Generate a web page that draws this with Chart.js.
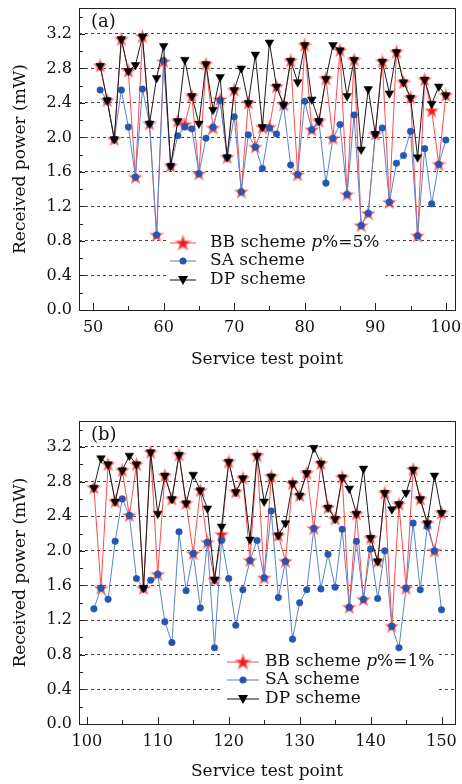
<!DOCTYPE html>
<html>
<head>
<meta charset="utf-8">
<script src="https://cdn.jsdelivr.net/npm/chart.js@4.4.1/dist/chart.umd.min.js"></script>
<style>
  html, body { margin: 0; padding: 0; background: #fff; }
  #wrapA { position: absolute; left: 0; top: 0; }
  #wrapB { position: absolute; left: 0; top: 372px; }
</style>
</head>
<body>
<div id="wrapA"><canvas id="chartA" width="462" height="372"></canvas></div>
<div id="wrapB"><canvas id="chartB" width="462" height="412"></canvas></div>
<script>
// service test points
const pointsA = [51,52,53,54,55,56,57,58,59,60,61,62,63,64,65,66,67,68,69,70,
  71,72,73,74,75,76,77,78,79,80,81,82,83,84,85,86,87,88,89,90,
  91,92,93,94,95,96,97,98,99,100];
const pointsB = [101,102,103,104,105,106,107,108,109,110,111,112,113,114,115,116,117,118,119,120,
  121,122,123,124,125,126,127,128,129,130,131,132,133,134,135,136,137,138,139,140,
  141,142,143,144,145,146,147,148,149,150];

// panel (a), p% = 5%
const bbA = [2.83,2.43,1.98,3.14,2.77,1.54,3.17,2.16,0.87,2.88, 1.67,2.19,2.15,2.48,1.58,2.85,2.11,2.44,1.77,2.55,
  1.37,2.40,1.89,2.12,2.12,2.59,2.38,2.89,1.57,3.07, 2.09,2.19,2.68,1.99,3.01,1.34,2.90,0.98,1.12,2.04,
  2.88,1.25,2.99,2.64,2.46,0.86,2.67,2.31,1.69,2.49];
const saA = [2.55,2.43,1.98,2.55,2.12,1.54,2.56,2.16,0.87,2.89, 1.67,2.02,2.12,2.10,1.58,1.99,2.12,2.43,1.77,2.24,
  1.37,2.03,1.89,1.64,2.11,2.04,2.38,1.68,1.57,2.42, 2.09,2.19,1.47,1.99,2.15,1.34,2.26,0.98,1.12,2.04,
  2.11,1.25,1.70,1.79,2.07,0.86,1.87,1.23,1.69,1.97];
const dpA = [2.83,2.43,1.98,3.14,2.77,2.84,3.17,2.16,2.69,3.06, 1.67,2.19,2.90,2.48,2.16,2.85,2.32,2.70,1.77,2.55,
  2.80,2.40,2.96,2.12,3.10,2.59,2.38,2.89,2.64,3.07, 2.44,2.19,2.68,3.07,3.01,2.48,2.90,1.86,2.56,2.04,
  2.88,2.51,2.99,2.64,2.46,1.77,2.67,2.39,2.59,2.49];

// panel (b), p% = 1%
const bbB = [2.73,1.57,3.00,2.57,2.93,2.41,3.00,1.57,3.14,1.73, 2.87,2.60,3.11,2.55,1.97,2.70,2.10,1.67,2.19,3.03,
  2.68,2.84,1.89,3.10,1.69,2.86,2.18,1.88,2.78,2.64, 2.90,2.26,3.01,2.50,2.37,2.85,1.35,2.43,1.44,2.15,
  1.88,2.67,1.13,2.54,1.57,2.94,2.60,2.32,2.00,2.44];
const saB = [1.33,1.57,1.44,2.11,2.60,2.41,1.68,1.57,1.66,1.73, 1.18,0.94,2.22,1.54,1.97,1.34,2.10,0.88,2.12,1.68,
  1.14,1.55,1.89,2.12,1.69,2.46,1.46,1.88,0.98,1.40, 1.55,2.26,1.56,1.96,1.58,2.25,1.35,2.11,1.44,2.02,
  1.45,2.00,1.13,0.88,1.57,2.32,1.55,2.28,2.00,1.32];
const dpB = [2.73,3.07,3.00,2.57,2.93,3.10,3.00,1.57,3.14,2.43, 2.87,2.60,3.11,2.55,2.88,2.70,2.49,1.67,2.28,3.03,
  2.68,2.84,2.13,3.10,2.57,2.86,2.18,2.32,2.78,2.64, 2.90,3.19,3.01,2.50,2.37,2.85,2.72,2.43,2.95,2.15,
  1.88,2.67,2.48,2.54,2.67,2.94,2.60,2.32,2.87,2.44];

// ticks
const yTicks = [0, 0.4, 0.8, 1.2, 1.6, 2.0, 2.4, 2.8, 3.2];
const yMinor = [0.2, 0.6, 1.0, 1.4, 1.8, 2.2, 2.6, 3.0, 3.4];
const xTicksA = [50, 60, 70, 80, 90, 100];
const xMinorA = [55, 65, 75, 85, 95];
const xTicksB = [100, 110, 120, 130, 140, 150];
const xMinorB = [105, 115, 125, 135, 145];

const FONT = 'DejaVu Serif';
const RED = '#f01a1a';
const BLUE = '#2656b0';

function makeStar(R, r) {
  const c = document.createElement('canvas');
  const s = Math.ceil(2 * R + 4);
  c.width = c.height = s;
  const g = c.getContext('2d');
  g.translate(s / 2, s / 2 + 0.5);
  g.beginPath();
  for (let k = 0; k < 10; k++) {
    const a = -Math.PI / 2 + k * Math.PI / 5;
    const rad = k % 2 ? r : R;
    g.lineTo(rad * Math.cos(a), rad * Math.sin(a));
  }
  g.closePath();
  g.fillStyle = RED;
  g.fill();
  g.strokeStyle = 'rgba(255,120,120,0.85)';
  g.lineWidth = 1.2;
  g.stroke();
  return c;
}
const starPt = makeStar(6.5, 2.8);
const starLeg = makeStar(7.5, 3.2);

// frame, inward ticks, legend
const decorPlugin = {
  id: 'decor',
  beforeDatasetsDraw(chart, args, opts) {
    const ctx = chart.ctx;
    const b = opts.box;
    ctx.save();
    ctx.fillStyle = '#fff';
    ctx.fillRect(b[0], b[1], b[2], b[3]);
    ctx.restore();
  },
  afterDraw(chart, args, opts) {
    const ctx = chart.ctx;
    const a = chart.chartArea;
    const xs = chart.scales.x, ys = chart.scales.y;
    ctx.save();
    ctx.strokeStyle = '#222';
    ctx.lineWidth = 1;
    ctx.strokeRect(Math.round(a.left) + 0.5, Math.round(a.top) + 0.5,
      Math.round(a.right - a.left), Math.round(a.bottom - a.top));
    ctx.beginPath();
    yTicks.forEach(v => {
      const y = Math.round(ys.getPixelForValue(v)) + 0.5;
      ctx.moveTo(a.left, y); ctx.lineTo(a.left + 6, y);
    });
    yMinor.forEach(v => {
      const y = Math.round(ys.getPixelForValue(v)) + 0.5;
      ctx.moveTo(a.left, y); ctx.lineTo(a.left + 4, y);
    });
    opts.xMajor.forEach(v => {
      const x = Math.round(xs.getPixelForValue(v)) + 0.5;
      ctx.moveTo(x, a.bottom); ctx.lineTo(x, a.bottom - 7);
    });
    opts.xMinor.forEach(v => {
      const x = Math.round(xs.getPixelForValue(v)) + 0.5;
      ctx.moveTo(x, a.bottom); ctx.lineTo(x, a.bottom - 4);
    });
    ctx.stroke();

    // panel tag
    ctx.fillStyle = '#111';
    ctx.font = '18px "' + FONT + '"';
    ctx.textBaseline = 'middle';
    ctx.fillText(opts.tag, a.left + 12, a.top + 14);

    // legend
    const L = opts.legend;
    const rows = L.rows;
    const [x1, x2] = L.line;
    const xm = (x1 + x2) / 2;
    ctx.lineWidth = 1;
    ctx.strokeStyle = '#ff4a4a';
    ctx.beginPath(); ctx.moveTo(x1, rows[0]); ctx.lineTo(x2, rows[0]); ctx.stroke();
    ctx.drawImage(starLeg, xm - starLeg.width / 2, rows[0] - starLeg.height / 2);
    ctx.strokeStyle = '#4f7bc6';
    ctx.beginPath(); ctx.moveTo(x1, rows[1]); ctx.lineTo(x2, rows[1]); ctx.stroke();
    ctx.fillStyle = BLUE;
    ctx.beginPath(); ctx.arc(xm, rows[1], 3.5, 0, Math.PI * 2); ctx.fill();
    ctx.strokeStyle = '#111';
    ctx.beginPath(); ctx.moveTo(x1, rows[2]); ctx.lineTo(x2, rows[2]); ctx.stroke();
    ctx.fillStyle = '#000';
    ctx.beginPath();
    ctx.moveTo(xm - 5, rows[2] - 4); ctx.lineTo(xm + 5, rows[2] - 4); ctx.lineTo(xm, rows[2] + 5);
    ctx.closePath(); ctx.fill();

    ctx.fillStyle = '#111';
    const f = '17px "' + FONT + '"';
    const fi = 'italic 17px "' + FONT + '"';
    ctx.font = f;
    let tx = L.textX;
    ctx.fillText('BB scheme ', tx, rows[0]);
    tx += ctx.measureText('BB scheme ').width;
    ctx.font = fi;
    ctx.fillText('p', tx, rows[0]);
    tx += ctx.measureText('p').width;
    ctx.font = f;
    ctx.fillText(L.pText, tx, rows[0]);
    ctx.fillText('SA scheme', L.textX, rows[1]);
    ctx.fillText('DP scheme', L.textX, rows[2]);
    ctx.restore();
  }
};

function buildChart(id, pts, bb, sa, dp, xr, xMajor, xMinor, padTop, xH, tag, legend, box) {
  const tickFont = { family: FONT, size: 16, weight: 'normal' };
  const titleFont = { family: FONT, size: 17, weight: 'normal' };
  return new Chart(document.getElementById(id), {
    type: 'line',
    data: {
      datasets: [
        {
          label: 'DP scheme',
          data: pts.map((x, i) => ({ x, y: dp[i] })),
          borderColor: '#1a1a1a', borderWidth: 1,
          pointStyle: 'triangle', rotation: 180, pointRadius: 5,
          pointBackgroundColor: '#000', pointBorderColor: '#000', pointBorderWidth: 0.5,
          order: 1
        },
        {
          label: 'SA scheme',
          data: pts.map((x, i) => ({ x, y: sa[i] })),
          borderColor: '#5a84cc', borderWidth: 1,
          pointStyle: 'circle', pointRadius: 3.3,
          pointBackgroundColor: BLUE, pointBorderColor: BLUE, pointBorderWidth: 0.5,
          order: 2
        },
        {
          label: 'BB scheme',
          data: pts.map((x, i) => ({ x, y: bb[i] })),
          borderColor: '#ff4a4a', borderWidth: 1,
          pointStyle: starPt, pointRadius: 6,
          order: 3
        }
      ]
    },
    options: {
      responsive: false,
      animation: false,
      devicePixelRatio: 1,
      layout: { padding: { top: padTop, right: 6, left: 0, bottom: 0 } },
      plugins: {
        legend: { display: false },
        tooltip: { enabled: false },
        decor: { xMajor, xMinor, tag, legend, box }
      },
      scales: {
        x: {
          type: 'linear', min: xr[0], max: xr[1],
          afterBuildTicks: s => { s.ticks = xMajor.map(v => ({ value: v })); },
          afterFit: s => { s.height = xH; s.paddingLeft = 0; s.paddingRight = 0; },
          grid: { display: false, drawTicks: false },
          border: { display: false },
          ticks: { font: tickFont, color: '#111', padding: 8, maxRotation: 0, autoSkip: false },
          title: { display: true, text: 'Service test point', font: titleFont, color: '#111',
                   padding: { top: 0, bottom: 2 } }
        },
        y: {
          min: 0, max: 3.5,
          afterBuildTicks: s => { s.ticks = yTicks.map(v => ({ value: v })); },
          afterFit: s => { s.width = 79; s.paddingTop = 0; s.paddingBottom = 0; },
          grid: {
            drawTicks: false,
            color: c => (c.tick && c.tick.value > 0 ? '#444' : 'rgba(0,0,0,0)'),
            lineWidth: 1
          },
          border: { display: false, dash: [3, 3] },
          ticks: { font: tickFont, color: '#111', padding: 7, callback: v => v.toFixed(1) },
          title: { display: true, text: 'Received power (mW)', font: titleFont, color: '#111',
                   padding: { top: 10, bottom: 0 } }
        }
      }
    },
    plugins: [decorPlugin]
  });
}

buildChart('chartA', pointsA, bbA, saA, dpA, [48.0, 101.3], xTicksA, xMinorA, 8, 62, '(a)',
  { rows: [243, 261, 280], line: [170, 196], textX: 210, pText: '%=5%' },
  [166, 231, 220, 60]);

buildChart('chartB', pointsB, bbB, saB, dpB, [98.9, 151.9], xTicksB, xMinorB, 49, 60, '(b)',
  { rows: [290, 308, 327], line: [227, 259], textX: 265, pText: '%=1%' },
  [222, 279, 216, 60]);
</script>
</body>
</html>
